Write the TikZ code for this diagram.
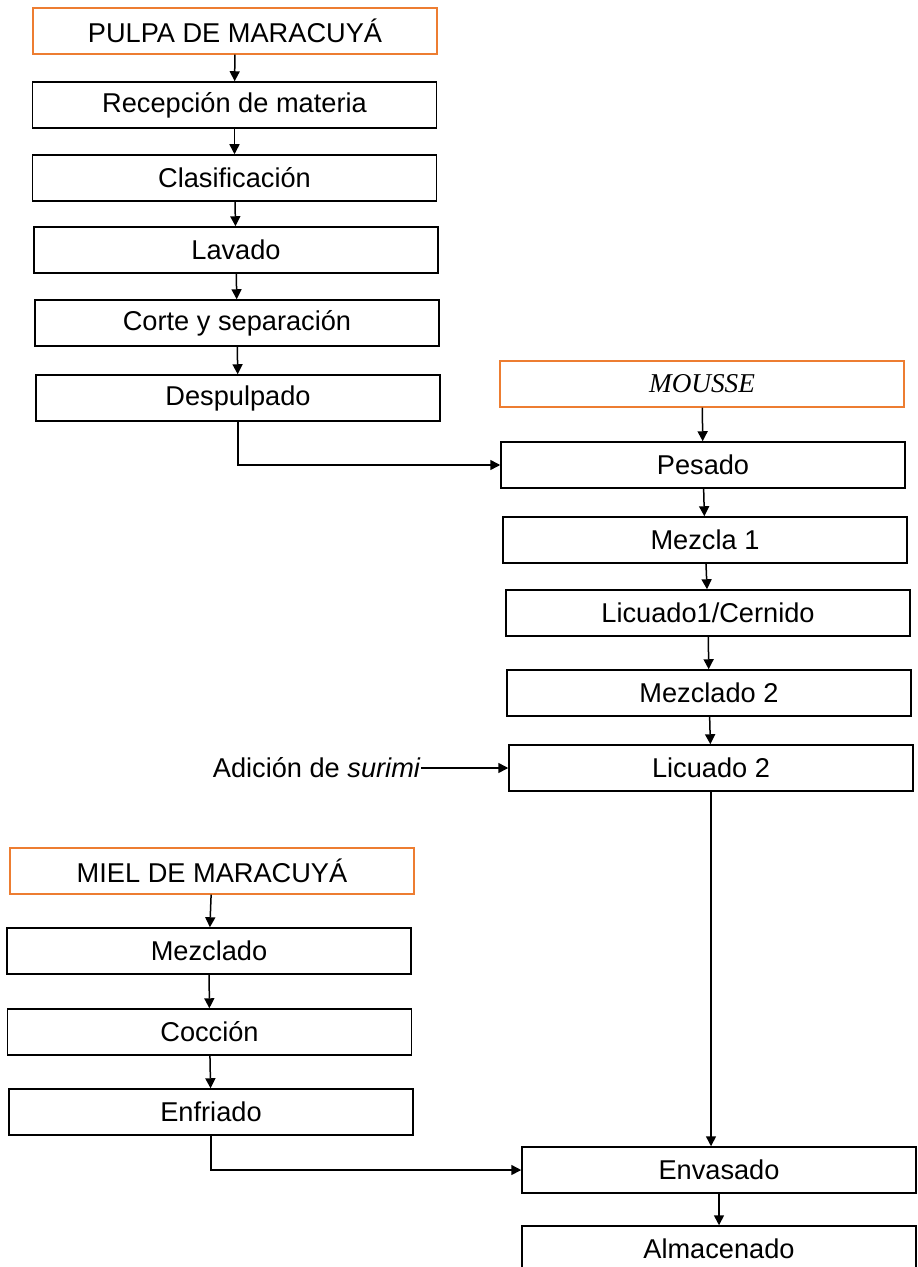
\documentclass[tikz,border=0pt]{standalone}
\usepackage{fontspec}
\setmainfont{Liberation Sans}
\newfontfamily\moussefont{Liberation Serif}
\usetikzlibrary{arrows.meta}
\definecolor{naranja}{RGB}{237,125,49}

\begin{document}
\begin{tikzpicture}[x=0.5pt,y=-0.5pt,>={Triangle[length=5pt,width=5pt]},
        font=\fontsize{13.6}{16}\selectfont]
            \clip (0,0) rectangle (917,1267);
            \begin{scope}[every node/.style={rectangle,draw=naranja,line width=0.6pt,minimum width=202pt,minimum height=23pt}]
                \node (pulpa) at (235,31) {PULPA DE MARACUYÁ};
                \node (mousse) at (702,384) {\moussefont\itshape MOUSSE};
                \node (miel) at (212,871) {MIEL DE MARACUYÁ};
            \end{scope}
            \begin{scope}[every node/.style={rectangle,draw,line width=0.75pt,minimum width=202pt,minimum height=23pt}]
                \node (recepcion) at (234.5,105) {Recepción de materia};
                \node (clasificacion) at (234.5,178) {Clasificación};
                \node (lavado) at (236,250) {Lavado};
                \node (corte) at (237,323) {Corte y separación};
                \node (despulpado) at (238,398) {Despulpado};
                \node (pesado) at (703,465) {Pesado};
                \node (mezcla1) at (705,540) {Mezcla 1};
                \node (licuado1) at (708,613) {Licuado1/Cernido};
                \node (mezclado2) at (709,693) {Mezclado 2};
                \node (licuado2) at (711,768) {Licuado 2};
                \node (mezclado) at (209,951) {Mezclado};
                \node (coccion) at (209.5,1032) {Cocción};
                \node (enfriado) at (211,1112) {Enfriado};
            \end{scope}
            \begin{scope}[every node/.style={rectangle,draw,line width=0.75pt,minimum width=197pt,minimum height=23pt}]
                \node (envasado) at (719,1170) {Envasado};
                \node (almacenado) at (719,1249) {Almacenado};
            \end{scope}

            \node [anchor=east,inner sep=0pt] (surimi) at (421,768) {Adición de \textit{surimi}};

            \begin{scope}[every edge/.style={draw,->,line width=0.75pt}]
                \path
                    (pulpa) edge (recepcion)
                    (recepcion) edge (clasificacion)
                    (clasificacion) edge (lavado)
                    (lavado) edge (corte)
                    (corte) edge (despulpado)
                    (mousse) edge (pesado)
                    (pesado) edge (mezcla1)
                    (mezcla1) edge (licuado1)
                    (licuado1) edge (mezclado2)
                    (mezclado2) edge (licuado2)
                    (surimi) edge (licuado2)
                    (miel) edge (mezclado)
                    (mezclado) edge (coccion)
                    (coccion) edge (enfriado)
                    (envasado) edge (almacenado);
            \end{scope}

            \draw [line width=0.75pt, ->] (despulpado) |- (pesado);
            \draw [line width=0.75pt, ->] (licuado2.south) -- (licuado2.south |- envasado.north);
            \draw [line width=0.75pt, ->] (enfriado) |- (envasado);
        \end{tikzpicture}
\end{document}
